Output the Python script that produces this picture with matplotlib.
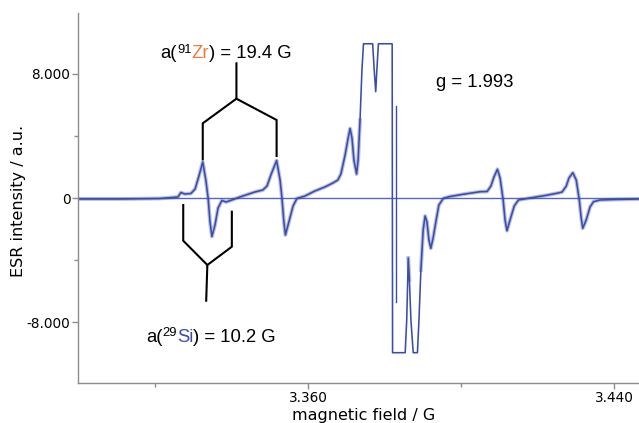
import matplotlib
matplotlib.use("Agg")
import matplotlib.pyplot as plt
import numpy as np
from matplotlib.ticker import FixedLocator

# ---------------- data (field in G, intensity in a.u.) ----------------
field = [3299.9, 3310.8, 3321.3, 3326.0, 3326.8, 3327.8, 3329.4, 3330.5, 3331.5, 3332.5,
         3333.3, 3333.9, 3334.4, 3334.9, 3335.7, 3336.5, 3337.5, 3338.6, 3340.1, 3342.2,
         3346.1, 3348.2, 3349.3, 3350.3, 3351.8, 3352.7, 3353.2, 3353.7, 3354.1, 3355.0,
         3356.1, 3357.1, 3359.2, 3361.8, 3364.4, 3366.5, 3367.8, 3368.6, 3369.7, 3370.5,
         3371.0, 3371.5, 3372.0, 3372.7, 3373.1, 3373.6, 3374.1, 3374.5, 3376.9, 3377.3,
         3377.7, 3378.0, 3378.4, 3382.0, 3382.1, 3385.4, 3385.8, 3386.2, 3386.5, 3386.9,
         3387.5, 3388.6, 3389.0, 3389.5, 3390.1, 3390.6, 3391.1, 3391.6, 3392.1, 3392.7,
         3393.5, 3394.2, 3395.4, 3397.1, 3401.0, 3405.0, 3406.8, 3407.8, 3408.6, 3409.5,
         3410.2, 3411.0, 3411.5, 3412.0, 3412.8, 3413.9, 3415.0, 3418.0, 3422.0, 3425.4,
         3426.4, 3427.5, 3428.2, 3429.2, 3430.1, 3430.9, 3431.4, 3431.8, 3432.7, 3433.7,
         3434.6, 3436.3, 3440.3, 3446.5]
intensity = [-65, -65, -32, 65, 355, 258, 290, 581, 1419, 2323,
             1161, 0, -1548, -2484, -1742, -645, -161, -258, -129, 65,
             387, 516, 774, 1484, 2419, 1161, 0, -1548, -2387, -1548,
             -516, -32, 129, 452, 710, 968, 1161, 1548, 2774, 3871,
             4484, 3871, 2452, 1548, 2452, 5032, 8258, 9950, 9950, 8258,
             6858, 8258, 9950, 9950, -9980, -9980, -7871, -3871, -5290, -7871,
             -9980, -9980, -7871, -4645, -2065, -1161, -1548, -2710, -3245, -2581,
             -1419, -452, -19, 97, 258, 406, 419, 774, 1355, 1852,
             1290, -129, -1419, -2110, -1419, -516, -129, 0, 161, 323,
             387, 774, 1290, 1632, 1161, -129, -1290, -1955, -1419, -581,
             -239, -129, -97, -65]

# spurious vertical spike next to the saturated centre line
spike_field = [3382.9, 3382.9]
spike_intensity = [5935, -6710]

# hyperfine splitting brackets
zr_x = [3341.3, 3341.3, 3332.5, 3332.5]
zr_y = [8690, 6406, 4819, 2497]
zr_x2 = [3341.3, 3351.8, 3351.8]
zr_y2 = [6406, 5032, 2710]
si_x = [3327.4, 3327.4, 3333.7, 3340.1, 3340.1]
si_y = [-452, -2755, -4323, -3142, -884]
si_stem_x = [3333.7, 3333.4]
si_stem_y = [-4323, -6626]

xticks_major = [3360, 3440]
xtick_labels = ["3.360", "3.440"]
xticks_minor = [3320, 3400]
yticks_major = [-8000, 0, 8000]
ytick_labels = ["-8.000", "0", "8.000"]
yticks_minor = [-4000, 4000]

# ---------------- figure ----------------
DPI = 100
fig = plt.figure(figsize=(6.39, 4.23), dpi=DPI)
ax = fig.add_axes([78/639, 1-383/423, 1-78/639, (383-13)/423])

trace_color = "#3a4daa"
ax.axhline(0, color="#5567c0", lw=1.0, zorder=1)
# noise band only where the signal is not saturated
inten_arr = np.array(intensity, dtype=float)
halo = np.where(np.abs(inten_arr) > 7500, np.nan, inten_arr)
ax.plot(field, halo, color=trace_color, lw=2.8, alpha=0.35, zorder=2,
        solid_joinstyle="round")
ax.plot(field, intensity, color=trace_color, lw=1.15, zorder=2)
ax.plot(spike_field, spike_intensity, color=trace_color, lw=1.0, zorder=2)

for xs, ys in [(zr_x, zr_y), (zr_x2, zr_y2), (si_x, si_y), (si_stem_x, si_stem_y)]:
    ax.plot(xs, ys, color="black", lw=1.5, zorder=3, solid_joinstyle="miter")

ax.set_xlim(3299.9, 3446.5)
ax.set_ylim(-11935, 11935)

for s in ["top", "right"]:
    ax.spines[s].set_visible(False)
for s in ["left", "bottom"]:
    ax.spines[s].set_color("#8c8c8c")
    ax.spines[s].set_linewidth(1.0)

ax.xaxis.set_major_locator(FixedLocator(xticks_major))
ax.xaxis.set_minor_locator(FixedLocator(xticks_minor))
ax.set_xticklabels(xtick_labels)
ax.yaxis.set_major_locator(FixedLocator(yticks_major))
ax.yaxis.set_minor_locator(FixedLocator(yticks_minor))
ax.set_yticklabels(ytick_labels)
ax.tick_params(which="major", length=4, width=1, color="#8c8c8c", labelsize=9.8)
ax.tick_params(axis="y", which="major", pad=1.5)
ax.tick_params(axis="x", which="major", pad=2.0)
ax.tick_params(which="minor", length=3, width=1, color="#8c8c8c")

ax.set_xlabel("magnetic field / G", fontsize=11.5)
ax.set_ylabel("ESR intensity / a.u.", fontsize=11.5)
ax.xaxis.set_label_coords((363.4-78)/561, (383-408)/370)
ax.yaxis.set_label_coords((26-78)/561, (383-201)/370)

# ---------------- rich annotation text ----------------
ANN_FONT = "Liberation Sans"
FS = 13.3
SUP_FS = 9.4
SUP_RAISE_PX = 5.5

renderer = fig.canvas.get_renderer()


def rich(x, y, pieces):
    widths = []
    for s, c, sup in pieces:
        t = fig.text(0, 0, s, fontsize=SUP_FS if sup else FS, family=ANN_FONT)
        widths.append(t.get_window_extent(renderer=renderer).width)
        t.remove()
    total = sum(widths)
    x0, y0 = ax.transData.transform((x, y))
    cur = x0 - total / 2
    for (s, c, sup), w in zip(pieces, widths):
        fig.text(cur / fig.bbox.width, (y0 + (SUP_RAISE_PX if sup else 0)) / fig.bbox.height, s,
                 fontsize=SUP_FS if sup else FS, family=ANN_FONT, color=c,
                 ha="left", va="baseline")
        cur += w


rich(3338.6, 9013, [("a(", "black", False), ("91", "black", True),
                    ("Zr", "#f07a3c", False), (") = 19.4 G", "black", False)])
rich(3403.7, 7142, [("g = 1.993", "black", False)])
rich(3334.6, -9271, [("a(", "black", False), ("29", "black", True),
                     ("Si", "#3a4daa", False), (") = 10.2 G", "black", False)])

fig.savefig("out.png", dpi=DPI)
